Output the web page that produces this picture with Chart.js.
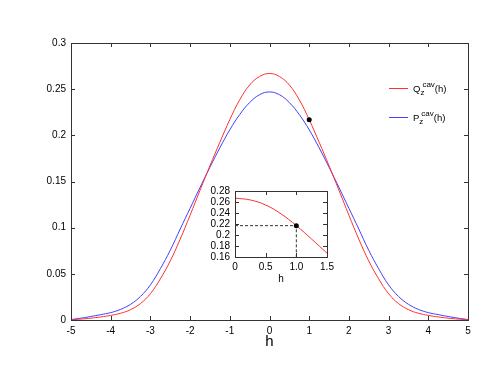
<!DOCTYPE html>
<html>
<head>
<meta charset="utf-8">
<script src="https://cdn.jsdelivr.net/npm/chart.js@4.4.1/dist/chart.umd.min.js"></script>
<style>
  html, body { margin: 0; padding: 0; background: #fff; }
  #wrap { position: relative; width: 498px; height: 385px; }
  #main { position: absolute; left: 0; top: 0; }
  #inset { position: absolute; left: 190px; top: 180px; }
</style>
</head>
<body>
<div id="wrap">
  <canvas id="main" width="498" height="385"></canvas>
  <canvas id="inset" width="150" height="110"></canvas>
</div>
<script>
const hValues = [-5, -4.75, -4.5, -4.25, -4, -3.75, -3.5, -3.25, -3, -2.75, -2.5, -2.25, -2, -1.75, -1.5, -1.25, -1, -0.75, -0.5, -0.25,
  0, 0.25, 0.5, 0.75, 1, 1.25, 1.5, 1.75, 2, 2.25, 2.5, 2.75, 3, 3.25, 3.5, 3.75, 4, 4.25, 4.5, 4.75, 5];
// Q_z^cav(h), red
const qValues = [0.0003, 0.001, 0.002, 0.0033, 0.005, 0.0073, 0.0112, 0.0178, 0.0285, 0.0445, 0.064, 0.0875, 0.1135, 0.1405, 0.167, 0.1925, 0.217, 0.2385, 0.2545, 0.2637,
  0.267, 0.2637, 0.2545, 0.2385, 0.217, 0.1925, 0.167, 0.1405, 0.1135, 0.0875, 0.064, 0.0445, 0.0285, 0.0178, 0.0112, 0.0073, 0.005, 0.0033, 0.002, 0.001, 0.0003];
// P_z^cav(h), blue
const pValues = [0.0005, 0.002, 0.0038, 0.0058, 0.008, 0.0115, 0.017, 0.0255, 0.038, 0.0555, 0.0755, 0.0985, 0.121, 0.1435, 0.1655, 0.1865, 0.206, 0.2225, 0.2355, 0.244,
  0.247, 0.244, 0.2355, 0.2225, 0.206, 0.1865, 0.1655, 0.1435, 0.121, 0.0985, 0.0755, 0.0555, 0.038, 0.0255, 0.017, 0.0115, 0.008, 0.0058, 0.0038, 0.002, 0.0005];

const markerH = 1;
const markerQ = 0.217;

const legendBase = ["Q", "P"];
const legendSub = "z";
const legendSup = "cav";
const legendTail = "(h)";

const insetRange = [0, 1.5];
const insetYRange = [0.16, 0.28];

const FONT = "'Liberation Sans', Arial, sans-serif";
const RED = '#ff3030';
const BLUE = '#4040ff';

function pts(xs, ys) {
  return xs.map((x, i) => ({ x: x, y: ys[i] }));
}

function fmt(v) {
  return String(parseFloat(v.toFixed(2)));
}

// frame + inward ticks on all four sides, gnuplot style
const framePlugin = {
  id: 'frame',
  beforeDraw(chart, args, opts) {
    if (!opts.fill) return;
    const a = chart.chartArea;
    const ctx = chart.ctx;
    ctx.save();
    ctx.fillStyle = '#fff';
    ctx.fillRect(a.left, a.top, a.right - a.left, a.bottom - a.top);
    ctx.restore();
  },
  afterDraw(chart, args, opts) {
    const a = chart.chartArea;
    const ctx = chart.ctx;
    const len = opts.len || 4;
    ctx.save();
    ctx.strokeStyle = '#333';
    ctx.lineWidth = 1;
    ctx.strokeRect(Math.round(a.left) + 0.5, Math.round(a.top) + 0.5,
      Math.round(a.right - a.left), Math.round(a.bottom - a.top));
    ctx.beginPath();
    chart.scales.x.ticks.forEach(t => {
      const px = Math.round(chart.scales.x.getPixelForValue(t.value)) + 0.5;
      ctx.moveTo(px, a.bottom); ctx.lineTo(px, a.bottom - len);
      ctx.moveTo(px, a.top); ctx.lineTo(px, a.top + len);
    });
    chart.scales.y.ticks.forEach(t => {
      const py = Math.round(chart.scales.y.getPixelForValue(t.value)) + 0.5;
      ctx.moveTo(a.left, py); ctx.lineTo(a.left + len, py);
      ctx.moveTo(a.right, py); ctx.lineTo(a.right - len, py);
    });
    ctx.stroke();
    ctx.restore();
  }
};

// legend with sub/superscripts
const legendPlugin = {
  id: 'sketchLegend',
  afterDraw(chart) {
    const ctx = chart.ctx;
    const rows = [{ y: 88, color: RED }, { y: 117, color: BLUE }];
    ctx.save();
    rows.forEach((r, i) => {
      ctx.strokeStyle = r.color;
      ctx.lineWidth = 1;
      ctx.beginPath();
      ctx.moveTo(389, r.y + 0.5);
      ctx.lineTo(408, r.y + 0.5);
      ctx.stroke();
      ctx.fillStyle = '#000';
      ctx.textBaseline = 'alphabetic';
      ctx.textAlign = 'left';
      let x = 413;
      const base = r.y + 4;
      ctx.font = '9.5px ' + FONT;
      ctx.fillText(legendBase[i], x, base);
      x += ctx.measureText(legendBase[i]).width;
      ctx.font = '8px ' + FONT;
      ctx.fillText(legendSub, x, base + 3);
      ctx.fillText(legendSup, x + 2, base - 5);
      x += ctx.measureText(legendSup).width + 2;
      ctx.font = '9.5px ' + FONT;
      ctx.fillText(legendTail, x, base);
    });
    ctx.restore();
  }
};

const tickFont = { family: FONT, size: 10 };

new Chart(document.getElementById('main'), {
  type: 'line',
  data: {
    datasets: [
      {
        data: [{ x: markerH, y: markerQ }],
        showLine: false,
        pointRadius: 2.5,
        pointBackgroundColor: '#000',
        pointBorderColor: '#000',
        pointBorderWidth: 0
      },
      {
        data: pts(hValues, qValues),
        borderColor: RED,
        borderWidth: 1,
        pointRadius: 0,
        tension: 0.4
      },
      {
        data: pts(hValues, pValues),
        borderColor: BLUE,
        borderWidth: 1,
        pointRadius: 0,
        tension: 0.4
      }
    ]
  },
  options: {
    responsive: false,
    animation: false,
    layout: { padding: { left: 0, top: 43, right: 30, bottom: 34 } },
    plugins: {
      legend: { display: false },
      tooltip: { enabled: false },
      frame: { len: 4 }
    },
    scales: {
      x: {
        type: 'linear', min: -5, max: 5,
        ticks: { stepSize: 1, color: '#000', font: tickFont, padding: 5, maxRotation: 0, autoSkip: false },
        grid: { display: false, drawTicks: false },
        border: { display: false },
        title: { display: true, text: 'h', color: '#000', font: { family: FONT, size: 15 }, padding: { top: 0, bottom: 0 } },
        afterFit: s => { s.height = 31; }
      },
      y: {
        min: 0, max: 0.3,
        ticks: { stepSize: 0.05, color: '#000', font: tickFont, padding: 5, autoSkip: false, callback: v => fmt(v) },
        grid: { display: false, drawTicks: false },
        border: { display: false },
        afterFit: s => { s.width = 71; }
      }
    }
  },
  plugins: [framePlugin, legendPlugin]
});

const insetH = hValues.filter(h => h >= insetRange[0] && h <= insetRange[1]);
const insetQ = qValues.filter((q, i) => hValues[i] >= insetRange[0] && hValues[i] <= insetRange[1]);

new Chart(document.getElementById('inset'), {
  type: 'line',
  data: {
    datasets: [
      {
        data: [{ x: markerH, y: markerQ }],
        showLine: false,
        pointRadius: 2.5,
        pointBackgroundColor: '#000',
        pointBorderColor: '#000',
        pointBorderWidth: 0
      },
      {
        data: [{ x: insetRange[0], y: markerQ }, { x: markerH, y: markerQ }, { x: markerH, y: insetYRange[0] }],
        borderColor: '#333',
        borderWidth: 1,
        borderDash: [3, 2],
        pointRadius: 0,
        tension: 0
      },
      {
        data: pts(insetH, insetQ),
        borderColor: RED,
        borderWidth: 1,
        pointRadius: 0,
        tension: 0.4
      }
    ]
  },
  options: {
    responsive: false,
    animation: false,
    layout: { padding: { left: 0, top: 11, right: 13, bottom: 5 } },
    plugins: {
      legend: { display: false },
      tooltip: { enabled: false },
      frame: { len: 4, fill: true }
    },
    scales: {
      x: {
        type: 'linear', min: insetRange[0], max: insetRange[1],
        ticks: { stepSize: 0.5, color: '#000', font: tickFont, padding: 4, maxRotation: 0, autoSkip: false },
        grid: { display: false, drawTicks: false },
        border: { display: false },
        title: { display: true, text: 'h', color: '#000', font: { family: FONT, size: 10 }, padding: { top: 0, bottom: 0 } },
        afterFit: s => { s.height = 28; }
      },
      y: {
        min: insetYRange[0], max: insetYRange[1],
        ticks: { stepSize: 0.02, color: '#000', font: tickFont, padding: 5, autoSkip: false, callback: v => fmt(v) },
        grid: { display: false, drawTicks: false },
        border: { display: false },
        afterFit: s => { s.width = 45; }
      }
    }
  },
  plugins: [framePlugin]
});
</script>
</body>
</html>
